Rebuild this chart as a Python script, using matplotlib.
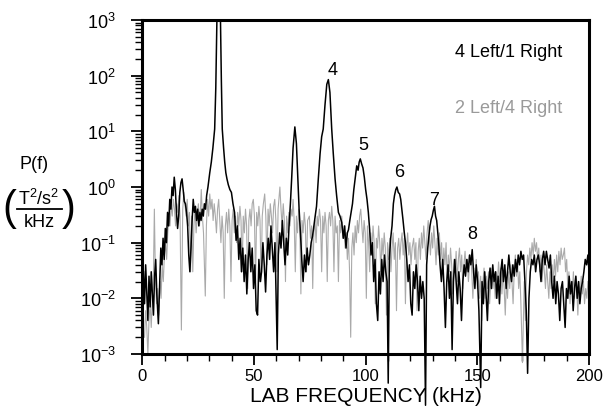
import matplotlib
matplotlib.use('Agg')
import matplotlib.pyplot as plt
from matplotlib.patches import Rectangle
from matplotlib.lines import Line2D
from matplotlib.ticker import FixedLocator, MultipleLocator, LogLocator, NullFormatter

plt.rcParams['font.family'] = ['Liberation Sans', 'DejaVu Sans']
plt.rcParams['mathtext.fontset'] = 'custom'
plt.rcParams['mathtext.rm'] = 'Liberation Sans'
plt.rcParams['mathtext.it'] = 'Liberation Sans'

# spectrum for 4 Left/1 Right (black)
black_f = [0.5, 1.0, 1.5, 2.0, 2.5, 3.0, 3.5, 4.0, 4.5, 5.0, 5.5, 6.0, 6.5, 7.2, 7.8,
           8.3, 8.8, 9.3, 9.8, 10.3, 10.8, 11.3, 11.8, 12.3, 12.8, 13.3, 13.8, 14.3, 14.8,
           15.3, 15.8, 16.3, 16.8, 17.3, 17.8, 18.3, 18.8, 19.3, 19.8, 20.3, 20.8, 21.3,
           21.8, 22.3, 22.8, 23.3, 23.8, 24.3, 24.8, 25.3, 25.8, 26.3, 26.8, 27.3, 27.8,
           28.3, 28.8, 29.4, 30.2, 30.9, 31.6, 32.4, 32.9, 33.4, 34.2, 35.0, 35.4, 35.8,
           36.4, 36.9, 37.4, 37.9, 38.5, 39.2, 39.9, 40.6, 41.3, 42.0, 42.6, 43.2, 43.8,
           44.4, 45.0, 45.6, 46.2, 46.8, 47.4, 48.0, 48.6, 49.2, 49.8, 50.4, 51.0, 51.6,
           52.2, 52.8, 53.4, 54.0, 54.6, 55.2, 55.8, 56.4, 57.0, 57.6, 58.2, 58.8, 59.4,
           60.4, 60.9, 61.5, 62.1, 62.7, 63.3, 63.9, 64.5, 65.1, 65.7, 66.3, 66.9, 67.5,
           68.3, 69.0, 69.6, 70.2, 70.8, 71.4, 72.0, 72.6, 73.2, 73.8, 74.4, 75.0, 75.6,
           76.2, 76.8, 77.4, 78.0, 78.8, 79.6, 80.3, 81.0, 81.8, 82.6, 83.3, 84.0, 84.8,
           85.5, 86.3, 87.0, 87.8, 88.5, 89.3, 90.0, 90.6, 91.2, 91.8, 92.3, 92.9, 93.5,
           94.1, 94.7, 95.3, 96.0, 96.6, 97.1, 97.6, 98.2, 98.8, 99.4, 100.0, 100.6, 101.2,
           101.8, 102.4, 103.0, 103.6, 104.2, 104.8, 105.4, 106.0, 106.6, 107.2, 107.8,
           108.4, 109.0, 109.6, 110.1, 110.6, 111.2, 111.8, 112.4, 112.9, 113.5, 114.0,
           114.6, 115.2, 115.7, 116.2, 116.7, 117.3, 117.8, 118.4, 119.0, 119.6, 120.2,
           120.8, 121.4, 122.0, 122.6, 123.2, 123.8, 124.4, 125.0, 125.6, 126.2, 126.8,
           127.3, 127.8, 128.3, 128.8, 129.3, 129.8, 130.3, 130.8, 131.3, 131.8, 132.3,
           132.8, 133.3, 133.9, 134.5, 135.1, 135.7, 136.3, 136.9, 137.5, 138.1, 138.7,
           139.3, 139.9, 140.5, 141.1, 141.7, 142.3, 142.9, 143.5, 144.1, 144.7, 145.3,
           145.9, 146.5, 147.1, 147.7, 148.3, 148.9, 149.5, 150.1, 150.7, 151.5, 152.1,
           152.7, 153.3, 153.9, 154.5, 155.1, 155.7, 156.3, 156.9, 157.5, 158.1, 158.7,
           159.3, 159.9, 160.5, 161.1, 161.7, 162.3, 162.9, 163.5, 164.1, 164.7, 165.3,
           165.9, 166.5, 167.1, 167.7, 168.3, 168.9, 169.5, 170.1, 170.7, 171.3, 171.9,
           172.5, 173.1, 173.7, 174.3, 174.9, 175.5, 176.1, 176.7, 177.3, 177.9, 178.5,
           179.1, 179.7, 180.3, 180.9, 181.5, 182.1, 182.7, 183.3, 183.9, 184.5, 185.1,
           185.7, 186.3, 186.9, 187.5, 188.1, 188.7, 189.3, 189.9, 190.5, 191.1, 191.7,
           192.3, 192.9, 193.5, 194.1, 194.7, 195.3, 195.9, 196.5, 197.1, 197.7, 198.3,
           198.9, 199.5, 200.0]
black_p = [0.03, 0.008, 0.04, 0.012, 0.004, 0.025, 0.007, 0.03, 0.012, 0.005, 0.025, 0.05,
           0.012, 0.0035, 0.02, 0.08, 0.04, 0.12, 0.05, 0.18, 0.1, 0.35, 0.2, 0.6, 0.4, 1.0,
           0.7, 1.5, 0.9, 0.35, 0.18, 0.3, 0.8, 1.2, 1.4, 0.9, 0.55, 0.5, 0.35, 0.2, 0.06,
           0.03, 0.08, 0.25, 0.6, 0.35, 0.45, 0.25, 0.4, 0.2, 0.35, 0.25, 0.4, 0.3, 0.5, 0.4,
           0.7, 1.0, 1.8, 2.8, 5, 11, 60, 1000, 3000, 1000, 80, 11, 5, 2.8, 1.8, 1.4, 1.1,
           0.9, 0.8, 0.5, 0.35, 0.11, 0.2, 0.05, 0.12, 0.03, 0.08, 0.02, 0.06, 0.012, 0.05,
           0.1, 0.03, 0.08, 0.015, 0.04, 0.006, 0.005, 0.05, 0.02, 0.03, 0.1, 0.04, 0.013,
           0.06, 0.12, 0.05, 0.2, 0.08, 0.03, 0.1, 0.0012, 0.06, 0.15, 0.08, 0.25, 0.1, 0.04,
           0.12, 0.06, 0.2, 0.5, 1.5, 5, 12, 6, 1.5, 0.4, 0.15, 0.05, 0.02, 0.06, 0.03, 0.08,
           0.04, 0.06, 0.1, 0.13, 0.2, 0.3, 0.45, 1.4, 4, 8, 11, 30, 70, 85, 50, 11, 4, 1.4,
           0.7, 0.35, 0.3, 0.23, 0.12, 0.2, 0.08, 0.15, 0.17, 0.25, 0.35, 0.5, 0.9, 1.4, 2.4,
           2.0, 2.8, 3.2, 2.6, 2.2, 1.5, 0.9, 0.6, 0.35, 0.17, 0.06, 0.1, 0.02, 0.05, 0.008,
           0.004, 0.03, 0.012, 0.05, 0.02, 0.06, 0.03, 0.02, 0.0003, 0.05, 0.12, 0.2, 0.5,
           0.7, 0.9, 1.0, 0.8, 0.75, 0.6, 0.4, 0.26, 0.15, 0.1, 0.05, 0.02, 0.04, 0.008,
           0.005, 0.03, 0.015, 0.04, 0.02, 0.006, 0.025, 0.01, 0.02, 0.01, 0.00012, 0.04,
           0.08, 0.13, 0.2, 0.26, 0.3, 0.38, 0.45, 0.3, 0.25, 0.15, 0.085, 0.04, 0.02, 0.05,
           0.015, 0.003, 0.02, 0.04, 0.01, 0.03, 0.0012, 0.02, 0.05, 0.02, 0.008, 0.03,
           0.015, 0.004, 0.02, 0.04, 0.025, 0.05, 0.03, 0.06, 0.04, 0.075, 0.03, 0.015, 0.04,
           0.02, 0.006, 0.00025, 0.02, 0.008, 0.03, 0.012, 0.004, 0.02, 0.035, 0.015, 0.04,
           0.02, 0.03, 0.01, 0.025, 0.008, 0.03, 0.05, 0.02, 0.04, 0.015, 0.03, 0.06, 0.03,
           0.02, 0.04, 0.025, 0.05, 0.03, 0.06, 0.04, 0.07, 0.05, 0.06, 0.02, 0.006, 0.00045,
           0.01, 0.03, 0.05, 0.04, 0.06, 0.03, 0.05, 0.06, 0.04, 0.02, 0.05, 0.07, 0.04,
           0.07, 0.05, 0.035, 0.06, 0.02, 0.01, 0.025, 0.008, 0.02, 0.012, 0.004, 0.015,
           0.02, 0.008, 0.003, 0.015, 0.01, 0.025, 0.012, 0.02, 0.006, 0.015, 0.025, 0.01,
           0.02, 0.008, 0.015, 0.02, 0.03, 0.05, 0.04, 0.06, 0.03]

# spectrum for 2 Left/4 Right (gray)
gray_f = [1.0, 1.5, 2.0, 2.5, 3.0, 3.5, 4.0, 4.5, 5.0, 5.4, 5.9, 6.4, 6.9, 7.4, 7.9, 8.4,
          8.9, 9.4, 9.9, 10.4, 10.9, 11.4, 11.9, 12.4, 12.9, 13.4, 13.9, 14.4, 14.9, 15.4,
          15.9, 16.4, 16.9, 17.5, 18.1, 18.6, 19.1, 19.6, 20.1, 20.6, 21.1, 21.6, 22.1,
          22.6, 23.1, 23.6, 24.1, 24.6, 25.1, 25.6, 26.1, 26.4, 26.9, 27.4, 28.2, 28.7,
          29.2, 29.7, 30.2, 30.7, 31.2, 31.7, 32.2, 32.7, 33.2, 33.7, 34.2, 34.7, 35.2,
          35.7, 36.2, 36.7, 37.2, 37.7, 38.2, 38.7, 39.2, 39.7, 40.2, 40.7, 41.2, 41.7,
          42.2, 42.7, 43.2, 43.7, 44.2, 44.7, 45.2, 45.7, 46.2, 46.7, 47.2, 47.7, 48.2,
          48.7, 49.2, 49.7, 50.2, 50.7, 51.2, 51.7, 52.2, 52.7, 53.2, 53.7, 54.2, 54.8,
          55.3, 55.8, 56.3, 56.8, 57.3, 57.8, 58.3, 58.8, 59.3, 59.8, 60.3, 60.8, 61.3,
          61.6, 62.1, 62.6, 63.1, 63.6, 64.1, 64.6, 65.1, 65.6, 66.1, 66.6, 67.1, 67.5,
          68.0, 68.5, 69.0, 69.5, 70.0, 70.5, 71.0, 71.5, 72.0, 72.5, 73.0, 73.5, 74.0,
          74.8, 75.3, 75.8, 76.3, 76.8, 77.3, 77.8, 78.3, 78.8, 79.3, 79.8, 80.3, 80.8,
          81.3, 81.8, 82.3, 82.8, 83.3, 83.8, 84.3, 84.8, 85.3, 85.8, 86.3, 86.8, 87.3,
          87.8, 88.3, 88.8, 89.3, 89.8, 90.3, 90.8, 91.3, 91.8, 92.3, 92.8, 93.3, 93.8,
          94.3, 94.8, 95.3, 95.8, 96.3, 96.8, 97.3, 97.8, 98.3, 98.8, 99.3, 99.8, 100.3,
          100.8, 101.3, 101.8, 102.3, 102.8, 103.3, 103.8, 104.3, 104.8, 105.3, 105.8,
          106.3, 106.8, 107.3, 107.8, 108.3, 108.8, 109.3, 109.8, 110.3, 110.8, 111.3,
          111.8, 112.3, 112.8, 113.3, 113.8, 114.3, 114.8, 115.3, 115.8, 116.3, 116.8,
          117.3, 117.8, 118.3, 118.8, 119.3, 119.8, 120.3, 120.8, 121.5, 122.0, 122.5,
          123.0, 123.5, 124.0, 124.5, 125.0, 125.5, 126.0, 126.5, 127.0, 127.5, 128.0,
          128.5, 129.0, 129.5, 130.0, 130.5, 131.0, 131.5, 132.0, 132.5, 133.0, 133.5,
          134.0, 134.5, 135.0, 135.5, 136.0, 136.5, 137.0, 137.5, 138.0, 138.5, 139.0,
          139.5, 140.0, 140.5, 141.0, 141.5, 142.0, 142.5, 143.0, 143.5, 144.0, 144.5,
          145.0, 145.5, 146.0, 146.5, 147.0, 147.5, 148.0, 148.5, 149.0, 149.5, 150.0,
          150.5, 151.0, 151.5, 152.0, 152.5, 153.0, 153.5, 154.0, 154.5, 155.0, 155.5,
          156.0, 156.5, 157.0, 157.5, 158.0, 158.5, 159.0, 159.5, 160.0, 160.5, 161.0,
          161.5, 162.0, 162.5, 163.0, 163.5, 164.0, 164.5, 165.0, 165.5, 166.0, 166.5,
          167.0, 167.5, 168.0, 168.5, 169.0, 169.5, 170.2, 171.0, 171.5, 172.0, 172.5,
          173.0, 173.5, 174.0, 174.5, 175.0, 175.5, 176.0, 176.5, 177.0, 177.5, 178.0,
          178.5, 179.0, 179.5, 180.0, 180.5, 181.0, 181.5, 182.0, 182.5, 183.0, 183.5,
          184.0, 184.5, 185.0, 185.5, 186.0, 186.5, 187.0, 187.5, 188.0, 188.5, 189.0,
          189.5, 190.0, 190.5, 191.0, 191.5, 192.0, 192.5, 193.0, 193.5, 194.0, 194.5,
          195.0, 195.5, 196.0, 196.5, 197.0, 197.5, 198.0, 198.5, 199.0, 199.5]
gray_p = [0.002, 0.006, 0.003, 0.001, 0.004, 0.008, 0.003, 0.01, 0.03, 0.4, 0.02, 0.008,
          0.015, 0.005, 0.02, 0.01, 0.04, 0.02, 0.06, 0.1, 0.05, 0.15, 0.3, 0.2, 0.5, 0.3,
          0.6, 0.4, 0.2, 0.5, 0.35, 0.7, 0.3, 0.0027, 0.4, 0.8, 0.5, 0.3, 0.6, 0.2, 0.35,
          0.03, 0.3, 0.03, 0.2, 0.4, 0.15, 0.3, 0.5, 0.2, 0.45, 0.9, 0.3, 0.15, 0.011, 0.2,
          0.6, 0.3, 0.75, 0.4, 0.6, 0.25, 0.5, 0.3, 0.15, 0.4, 0.6, 0.25, 0.1, 0.3, 0.15,
          0.01, 0.2, 0.35, 0.15, 0.4, 0.2, 0.02, 0.25, 0.4, 0.15, 0.3, 0.1, 0.35, 0.2,
          0.45, 0.25, 0.03, 0.3, 0.15, 0.4, 0.2, 0.015, 0.25, 0.4, 0.2, 0.5, 0.6, 0.3, 0.02,
          0.35, 0.2, 0.45, 0.25, 0.02, 0.3, 0.5, 0.75, 0.3, 0.04, 0.4, 0.2, 0.5, 0.3, 0.15,
          0.45, 0.6, 0.25, 0.03, 0.4, 0.7, 1.0, 0.4, 0.2, 0.5, 0.25, 0.02, 0.3, 0.15, 0.35,
          0.2, 0.4, 0.3, 0.6, 0.25, 0.03, 0.3, 0.15, 0.4, 0.2, 0.012, 0.25, 0.15, 0.35, 0.2,
          0.03, 0.25, 0.3, 0.12, 0.2, 0.015, 0.15, 0.25, 0.1, 0.3, 0.2, 0.4, 0.25, 0.03, 0.3,
          0.15, 0.35, 0.2, 0.02, 0.25, 0.35, 0.2, 0.45, 0.25, 0.03, 0.3, 0.15, 0.2, 0.02,
          0.25, 0.15, 0.3, 0.12, 0.2, 0.08, 0.15, 0.05, 0.12, 0.03, 0.002, 0.08, 0.15,
          0.06, 0.2, 0.1, 0.25, 0.15, 0.3, 0.4, 0.2, 0.1, 0.25, 0.15, 0.01, 0.2, 0.1, 0.03,
          0.15, 0.08, 0.2, 0.1, 0.008, 0.12, 0.08, 0.2, 0.1, 0.03, 0.12, 0.06, 0.15, 0.08,
          0.005, 0.1, 0.05, 0.12, 0.03, 0.08, 0.15, 0.05, 0.1, 0.006, 0.08, 0.12, 0.05, 0.1,
          0.15, 0.06, 0.12, 0.008, 0.08, 0.15, 0.06, 0.1, 0.04, 0.08, 0.12, 0.05, 0.1, 0.006,
          0.07, 0.12, 0.05, 0.15, 0.08, 0.2, 0.1, 0.05, 0.15, 0.25, 0.12, 0.06, 0.15, 0.08,
          0.2, 0.1, 0.04, 0.12, 0.06, 0.15, 0.05, 0.1, 0.03, 0.08, 0.04, 0.1, 0.02, 0.06,
          0.03, 0.08, 0.04, 0.012, 0.05, 0.03, 0.07, 0.02, 0.05, 0.08, 0.03, 0.06, 0.015,
          0.04, 0.07, 0.03, 0.05, 0.02, 0.04, 0.06, 0.03, 0.01, 0.035, 0.02, 0.05, 0.015,
          0.03, 0.01, 0.025, 0.004, 0.02, 0.035, 0.01, 0.025, 0.015, 0.03, 0.008, 0.02,
          0.035, 0.015, 0.025, 0.01, 0.03, 0.02, 0.045, 0.02, 0.035, 0.012, 0.03, 0.015,
          0.005, 0.02, 0.01, 0.03, 0.015, 0.04, 0.02, 0.008, 0.03, 0.06, 0.025, 0.045,
          0.015, 0.03, 0.008, 0.0007, 0.02, 0.004, 0.03, 0.06, 0.04, 0.08, 0.05, 0.1, 0.06,
          0.12, 0.07, 0.1, 0.05, 0.08, 0.03, 0.06, 0.02, 0.05, 0.03, 0.015, 0.04, 0.02,
          0.01, 0.03, 0.015, 0.04, 0.02, 0.05, 0.025, 0.06, 0.03, 0.07, 0.04, 0.08, 0.05,
          0.06, 0.08, 0.03, 0.05, 0.015, 0.03, 0.008, 0.02, 0.012, 0.03, 0.01, 0.025,
          0.015, 0.005, 0.02, 0.01, 0.025, 0.012, 0.02, 0.008, 0.015, 0.01, 0.02]

peak_labels = ['4', '5', '6', '7', '8']
peak_f = [85.2, 99.0, 115.0, 130.5, 147.6]
peak_p = [130, 5.9, 1.93, 0.6, 0.145]

ytick_vals = [1e-3, 1e-2, 1e-1, 1e0, 1e1, 1e2, 1e3]
ytick_labels = ['$10^{-3}$', '$10^{-2}$', '$10^{-1}$', '$10^{0}$', '$10^{1}$', '$10^{2}$', '$10^{3}$']
xtick_vals = [0, 50, 100, 150, 200]

fig = plt.figure(figsize=(6.05, 4.14), dpi=100)
ax = fig.add_axes([0.2352, 0.1425, 0.7384, 0.8068])

# lines may run below the bottom axis (as in the original) but are cut at the top
clip = Rectangle((0, -0.5), 1, 1.5, transform=ax.transAxes)

g, = ax.plot(gray_f, gray_p, color='#aaaaaa', lw=0.8, zorder=2)
b, = ax.plot(black_f, black_p, color='black', lw=1.1, zorder=3)
g.set_clip_path(clip)
b.set_clip_path(clip)

ax.set_yscale('log')
ax.set_xlim(0, 200)
ax.set_ylim(1e-3, 1e3)

ax.yaxis.set_major_locator(FixedLocator(ytick_vals))
ax.set_yticklabels(ytick_labels, fontsize=13)
ax.yaxis.set_minor_locator(LogLocator(base=10, subs=range(2, 10)))
ax.yaxis.set_minor_formatter(NullFormatter())
ax.set_xticks(xtick_vals)
ax.set_xticklabels([str(v) for v in xtick_vals], fontsize=12)
ax.xaxis.set_minor_locator(MultipleLocator(10))

ax.tick_params(which='major', direction='out', length=8, width=1.3)
ax.tick_params(which='minor', direction='out', length=5, width=1.0)
ax.tick_params(axis='y', pad=11)
ax.tick_params(axis='x', pad=2)
for s in ax.spines.values():
    s.set_linewidth(2.2)

for lab, f, p in zip(peak_labels, peak_f, peak_p):
    ax.text(f, p, lab, fontsize=13, ha='center', va='center')

ax.text(140.2, 269, '4 Left/1 Right', fontsize=13, color='black', va='center')
ax.text(140.2, 27, '2 Left/4 Right', fontsize=13, color='#9a9a9a', va='center')

ax.set_xlabel('LAB FREQUENCY (kHz)', fontsize=15, labelpad=2)

# y axis label
fig.text(34 / 605, 1 - 165 / 414, 'P(f)', fontsize=13, ha='center', va='center')
fig.text(39 / 605, 1 - 199 / 414, 'T$^2$/s$^2$', fontsize=13, ha='center', va='center')
fig.text(39 / 605, 1 - 223 / 414, 'kHz', fontsize=13, ha='center', va='center')
fig.add_artist(Line2D([17 / 605, 62 / 605], [1 - 210 / 414, 1 - 210 / 414],
                      color='black', lw=1.3, transform=fig.transFigure))
fig.text(9 / 605, 1 - 209 / 414, '(', fontsize=30, ha='center', va='center')
fig.text(69 / 605, 1 - 209 / 414, ')', fontsize=30, ha='center', va='center')

fig.savefig('out.png', dpi=100)
